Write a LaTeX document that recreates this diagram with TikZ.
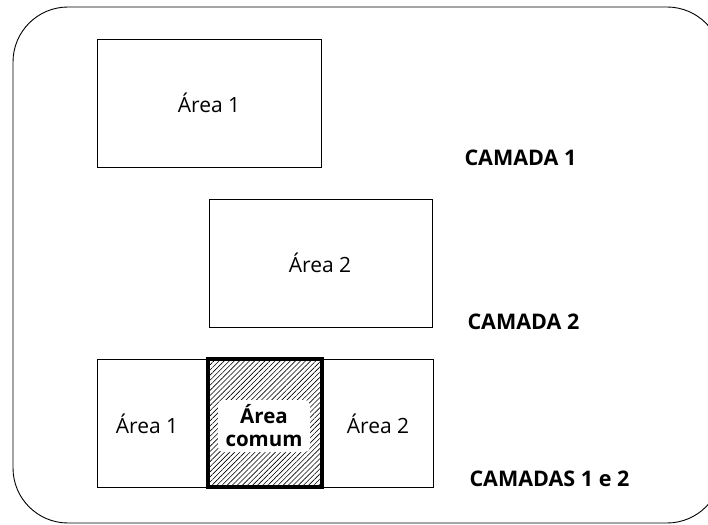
\documentclass[tikz,border=0pt]{standalone}
\usepackage{fontspec}
\setmainfont{Open Sans}
\usetikzlibrary{patterns.meta}
\begin{document}
\begin{tikzpicture}[x=1pt,y=-1pt,
  areabox/.style={draw=black,line width=0.9pt,fill=white},
  areatext/.style={font=\fontsize{21}{23}\selectfont},
  layerlabel/.style={font=\bfseries\fontsize{21.5}{23}\selectfont,anchor=west},
  commonbox/.style={draw=black,line width=3.8pt,
    pattern={Lines[angle=45,distance=3.6pt,line width=0.6pt]}},
  commonlabel/.style={fill=white,rounded corners=5pt,minimum width=92pt,
    minimum height=52pt,inner sep=0pt,align=center,
    font=\bfseries\fontsize{20.5}{23}\selectfont}]
\useasboundingbox (0,0) rectangle (708,524);
\begin{scope}
  \clip (0,0) rectangle (708,524);
  \draw[line width=0.9pt,rounded corners=55pt] (13,7) rectangle (722,523);
\end{scope}
% layer 1
\draw[areabox] (97,39) rectangle (321,167);
\node[areatext] (a1) at (209,103) {Área 1};
\node[layerlabel] (l1) at (461,158) {CAMADA 1};
% layer 2
\draw[areabox] (209,199) rectangle (432,327);
\node[areatext] (a2) at (320,263) {Área 2};
\node[layerlabel] (l2) at (464,322) {CAMADA 2};
% layers 1 and 2 combined
\draw[areabox] (97,359) rectangle (433,487);
\draw[commonbox] (208,359) rectangle (322,487);
\node[commonlabel] (ac) at (264,426) {Área\\comum};
\node[areatext] (b1) at (147,424) {Área 1};
\node[areatext] (b2) at (378,424) {Área 2};
\node[layerlabel] (l3) at (466,479) {CAMADAS 1 e 2};
\end{tikzpicture}
\end{document}
